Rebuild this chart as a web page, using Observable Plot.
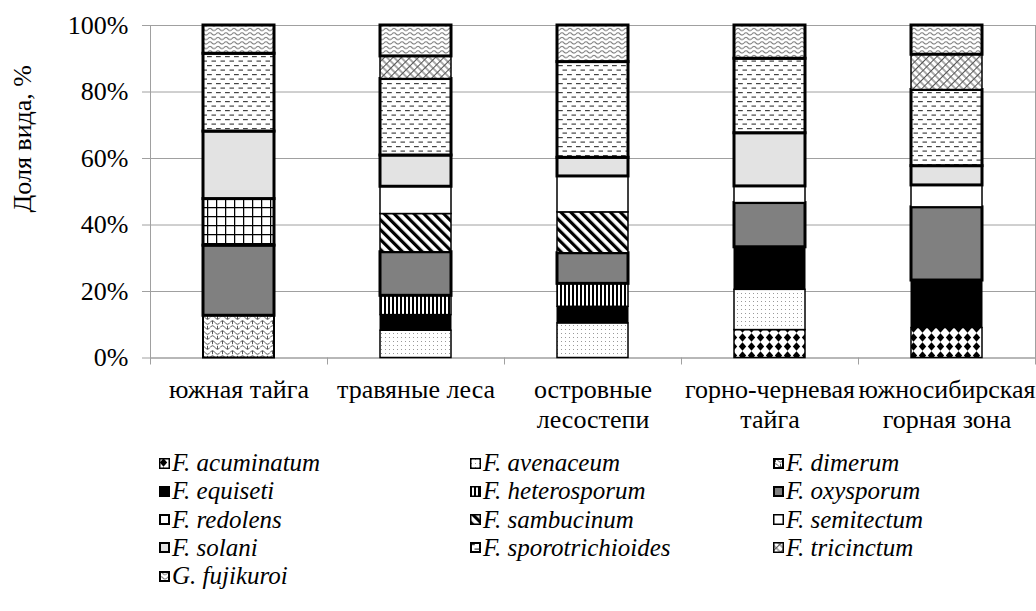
<!DOCTYPE html>
<html><head><meta charset="utf-8">
<script src="https://cdn.jsdelivr.net/npm/d3@7"></script>
<script src="https://cdn.jsdelivr.net/npm/@observablehq/plot@0.6"></script>
<style>
body{margin:0;background:#fff;font-family:'Liberation Serif','Times New Roman',serif;}
#legend{position:relative;height:171px;color:#000;}
.item{position:absolute;display:flex;align-items:center;height:28px;white-space:nowrap;font-family:'Liberation Serif','Times New Roman',serif;font-style:italic;font-size:25px;}
.item svg{margin-right:2px;}
</style>
</head><body>
<svg width="0" height="0" style="position:absolute">
<defs>
<pattern id="p-acu" width="9" height="9" patternUnits="userSpaceOnUse"><rect width="9" height="9" fill="#fff"/><path d="M4.5,0.3L8.2,4.5L4.5,8.7L0.8,4.5Z" fill="#000"/></pattern>
<pattern id="p-ave" width="4" height="4" patternUnits="userSpaceOnUse"><rect width="4" height="4" fill="#fff"/><rect x="1" y="1" width="1" height="1" fill="#999"/></pattern>
<pattern id="p-dim" width="10" height="10" patternUnits="userSpaceOnUse"><rect width="10" height="10" fill="#fff"/><path d="M0,2.5Q2.5,-1 5,2.5T10,2.5M0,7.5Q2.5,4 5,7.5T10,7.5M2.5,0.8V4.2M7.5,5.8V9.2" stroke="#555" fill="none" stroke-width="1"/></pattern>
<pattern id="p-het" width="4" height="4" patternUnits="userSpaceOnUse"><rect width="4" height="4" fill="#fff"/><rect x="0" width="2" height="4" fill="#000"/></pattern>
<pattern id="p-red" width="9" height="9" patternUnits="userSpaceOnUse"><rect width="9" height="9" fill="#fff"/><path d="M0,0.6H9M0.6,0V9" stroke="#000" stroke-width="1.3"/></pattern>
<pattern id="p-sam" width="7" height="7" patternUnits="userSpaceOnUse" patternTransform="rotate(-45)"><rect width="7" height="7" fill="#fff"/><rect width="3.2" height="7" fill="#000"/></pattern>
<pattern id="p-spo" width="9" height="9" patternUnits="userSpaceOnUse"><rect width="9" height="9" fill="#fff"/><rect x="0" y="2" width="4.8" height="1.2" fill="#444"/><rect x="4.5" y="6.5" width="4.5" height="1.2" fill="#444"/></pattern>
<pattern id="p-tri" width="6" height="10" patternUnits="userSpaceOnUse" patternTransform="rotate(45)"><rect width="6" height="10" fill="#fff"/><path d="M0.5,0V10M0.5,2H6M0.5,7H6" stroke="#555" stroke-width="1"/></pattern>
<pattern id="p-fuj" width="8" height="4.5" patternUnits="userSpaceOnUse"><rect width="8" height="4.5" fill="#fff"/><path d="M0,2.5Q2,0.3 4,2.5T8,2.5" stroke="#666" fill="none" stroke-width="1"/></pattern>
</defs>
</svg>
<div id="chart"></div>
<div id="legend"></div>
<script>
// Categories (habitat zones) and their two-line tick labels
const categories = ["южная тайга","травяные леса","островные лесостепи","горно-черневая тайга","южносибирская горная зона"];
const tickLabels = ["южная тайга","травяные леса","островные\nлесостепи","горно-черневая\nтайга","южносибирская\nгорная зона"];
const yTicks = [0,20,40,60,80,100];

// Species shares (%) per zone
const speciesNames = ["F. acuminatum","F. avenaceum","F. dimerum","F. equiseti","F. heterosporum","F. oxysporum","F. redolens","F. sambucinum","F. semitectum","F. solani","F. sporotrichioides","F. tricinctum","G. fujikuroi"];
const acuminatum       = [0,    0,    0,    8.4,  9.0];
const avenaceum        = [0,    8.2,  10.4, 12.1, 0];
const dimerum          = [12.7, 0,    0,    0,    0];
const equiseti         = [0,    4.7,  5.0,  12.8, 14.3];
const heterosporum     = [0,    5.8,  6.9,  0,    0];
const oxysporum        = [21.1, 13.1, 9.2,  13.3, 22.0];
const redolens         = [14.0, 0,    0,    0,    0];
const sambucinum       = [0,    11.5, 12.3, 0,    0];
const semitectum       = [0,    8.2,  10.8, 5.0,  6.6];
const solani           = [20.3, 9.4,  5.6,  16.0, 5.8];
const sporotrichioides = [23.4, 23.0, 28.8, 22.4, 22.9];
const tricinctum       = [0,    6.8,  0,    0,    10.6];
const fujikuroi        = [8.5,  9.3,  11.0, 10.0, 8.8];
const seriesValues = [acuminatum,avenaceum,dimerum,equiseti,heterosporum,oxysporum,redolens,sambucinum,semitectum,solani,sporotrichioides,tricinctum,fujikuroi];

// Styles
const fills = ["url(#p-acu)","url(#p-ave)","url(#p-dim)","#000","url(#p-het)","#808080","url(#p-red)","url(#p-sam)","#fff","#e3e3e3","url(#p-spo)","url(#p-tri)","url(#p-fuj)"];
const strokeWidths = [1.5,1.5,2,1,1.5,3,3,1.5,1.5,3,3,1.5,3];

const rows = [];
speciesNames.forEach((s, i) => {
  categories.forEach((c, j) => {
    const v = seriesValues[i][j];
    if (v > 0) rows.push({category: c, species: s, value: v, fill: fills[i], sw: strokeWidths[i]});
  });
});

const W = 1036, ML = 150, MR = 1;
const step = (W - ML - MR) / categories.length;
const labelOf = Object.fromEntries(categories.map((c, i) => [c, tickLabels[i]]));
const font = "'Liberation Serif','Times New Roman',serif";

const chart = Plot.plot({
  width: W, height: 440,
  marginLeft: ML, marginRight: MR, marginTop: 25, marginBottom: 82.5,
  style: {fontFamily: font, fontSize: "26px", color: "#000", background: "#fff", overflow: "visible"},
  x: {domain: categories, paddingInner: 0.6, paddingOuter: 0.3, label: null},
  y: {domain: [0, 100], label: null},
  color: {type: "identity"},
  marks: [
    Plot.gridY(yTicks, {stroke: "#a0a0a0", strokeOpacity: 1}),
    Plot.frame({stroke: "#a0a0a0"}),
    Plot.axisY(yTicks, {tickSize: 8, tickPadding: 14, tickFormat: d => d + "%", stroke: "#a0a0a0", fontSize: 26, label: null}),
    Plot.axisX({tickSize: 7, tickFormat: () => "", dx: -step / 2, stroke: "#a0a0a0", label: null}),
    Plot.axisX([categories[categories.length - 1]], {tickSize: 7, tickFormat: () => "", dx: step / 2, stroke: "#a0a0a0", label: null}),
    Plot.axisX({tickSize: 0, tickPadding: 19, tickFormat: d => labelOf[d], lineHeight: 1.15, fontSize: 26, label: null}),
    Plot.barY(rows, {x: "category", y: "value", fill: "fill", stroke: "#000", strokeWidth: "sw", strokeLinejoin: "miter"}),
    Plot.text(["Доля вида, %"], {frameAnchor: "left", rotate: -90, dx: -128, dy: -53, fontSize: 26, textAnchor: "middle", lineAnchor: "middle"})
  ]
});
document.getElementById("chart").appendChild(chart);

// Legend (3 columns, row-major)
const legend = document.getElementById("legend");
const colX = [159, 470, 773];
speciesNames.forEach((s, i) => {
  const r = Math.floor(i / 3), c = i % 3;
  const div = document.createElement("div");
  div.className = "item";
  div.style.left = colX[c] + "px";
  div.style.top = (9 + r * 28.3) + "px";
  const sw = Math.min(strokeWidths[i], 2);
  div.innerHTML = `<svg width="11" height="11" viewBox="0 0 11 11"><rect x="${sw/2}" y="${sw/2}" width="${11 - sw}" height="${11 - sw}" fill="${fills[i]}" stroke="#000" stroke-width="${sw}"/></svg>`;
  const span = document.createElement("span");
  span.textContent = s;
  div.appendChild(span);
  legend.appendChild(div);
});
</script>
</body></html>
